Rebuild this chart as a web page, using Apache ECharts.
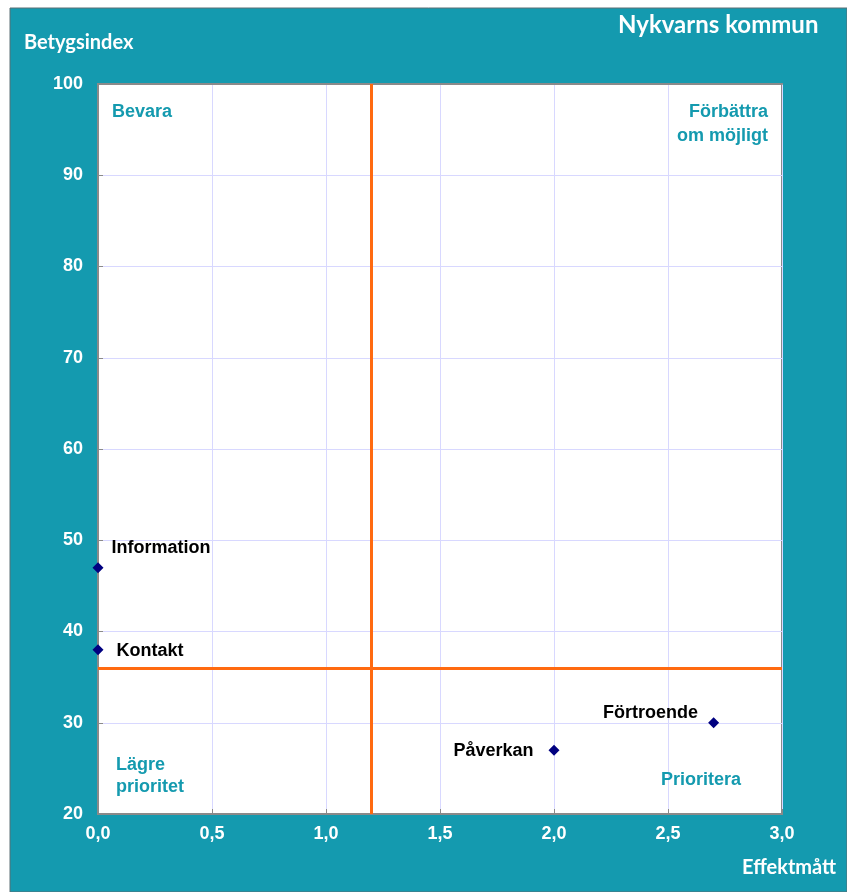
<!DOCTYPE html>
<html><head><meta charset="utf-8">
<script src="https://cdn.jsdelivr.net/npm/echarts@6/dist/echarts.min.js"></script>
<style>html,body{margin:0;padding:0;background:#fff}#c{width:847px;height:892px}</style>
</head><body><div id="c"></div>
<script>
const names = ['Information', 'Kontakt', 'Påverkan', 'Förtroende'];
const effekt = [0.0, 0.0, 2.0, 2.7];
const betyg = [47, 38, 27, 30];
const xTicks = ['0,0','0,5','1,0','1,5','2,0','2,5','3,0'];
const refX = 1.2;
const refY = 36;

const labelPos = {
  'Information': {position: 'right', offset: [3, -20]},
  'Kontakt': {position: 'right', offset: [8, 1]},
  'Påverkan': {position: 'left', offset: [-10, 1]},
  'Förtroende': {position: 'left', offset: [-5, -10]}
};
const teal = '#149aaf';
const font = '"Liberation Sans", Arial, sans-serif';
const tfont = 'Lato, "Open Sans", sans-serif';
const border = {show: true, lineStyle: {color: '#8a8a8a', width: 2}};

const chart = echarts.init(document.getElementById('c'));
chart.setOption({
  animation: false,
  backgroundColor: '#fff',
  graphic: [
    {type: 'rect', z: -10, shape: {x: 10, y: 8, width: 837, height: 884}, style: {fill: teal, stroke: '#5a6f74', lineWidth: 1}},
    {type: 'text', z: 10, left: 618, top: 13, style: {text: 'Nykvarns kommun', fill: '#fff', font: 'bold 24px ' + tfont}},
    {type: 'text', z: 10, left: 24, top: 33, style: {text: 'Betygsindex', fill: '#fff', font: 'bold 20px ' + tfont}},
    {type: 'text', z: 10, left: 742, top: 858, style: {text: 'Effektmått', fill: '#fff', font: 'bold 20px ' + tfont}},
    {type: 'text', z: 10, left: 112, top: 103, style: {text: 'Bevara', fill: teal, font: 'bold 18px ' + font}},
    {type: 'text', z: 10, right: 79, top: 103, style: {text: 'Förbättra', fill: teal, font: 'bold 18px ' + font}},
    {type: 'text', z: 10, right: 79, top: 127, style: {text: 'om möjligt', fill: teal, font: 'bold 18px ' + font}},
    {type: 'text', z: 10, left: 116, top: 754, style: {text: 'Lägre\nprioritet', fill: teal, lineHeight: 22, font: 'bold 18px ' + font}},
    {type: 'text', z: 10, left: 661, top: 771, style: {text: 'Prioritera', fill: teal, font: 'bold 18px ' + font}}
  ],
  grid: {left: 98, right: 65, top: 84, bottom: 78, show: true, backgroundColor: '#fff', borderColor: '#8a8a8a', borderWidth: 2},
  xAxis: [{
    type: 'value', min: 0, max: 3, interval: 0.5,
    axisLine: border,
    axisTick: {show: true, inside: true, length: 5, lineStyle: {color: '#8a8a8a', width: 1}},
    splitLine: {show: true, lineStyle: {color: '#d8d8ff', width: 1}},
    axisLabel: {color: '#fff', fontFamily: font, fontWeight: 'bold', fontSize: 18, margin: 11,
      formatter: v => xTicks[Math.round(v / 0.5)]}
  }, {
    type: 'value', position: 'top', min: 0, max: 3, interval: 0.5,
    axisLine: border, axisTick: {show: false}, axisLabel: {show: false}, splitLine: {show: false}
  }],
  yAxis: [{
    type: 'value', min: 20, max: 100, interval: 10,
    axisLine: border,
    axisTick: {show: true, inside: true, length: 5, lineStyle: {color: '#8a8a8a', width: 1}},
    splitLine: {show: true, lineStyle: {color: '#d8d8ff', width: 1}},
    axisLabel: {color: '#fff', fontFamily: font, fontWeight: 'bold', fontSize: 18, margin: 15}
  }, {
    type: 'value', position: 'right', min: 20, max: 100, interval: 10,
    axisLine: border, axisTick: {show: false}, axisLabel: {show: false}, splitLine: {show: false}
  }],
  series: [{
    type: 'scatter',
    symbol: 'diamond', symbolSize: 11,
    itemStyle: {color: '#000080', opacity: 1},
    clip: false,
    z: 5,
    data: names.map((n, i) => ({
      value: [effekt[i], betyg[i]], name: n,
      label: Object.assign({show: true, formatter: '{b}', color: '#000', fontFamily: font, fontWeight: 'bold', fontSize: 18}, labelPos[n])
    })),
    markLine: {
      silent: true, symbol: 'none', animation: false,
      lineStyle: {color: '#ff6a10', width: 3, type: 'solid', opacity: 1},
      label: {show: false},
      data: [{xAxis: refX}, {yAxis: refY}]
    }
  }]
});
</script></body></html>
